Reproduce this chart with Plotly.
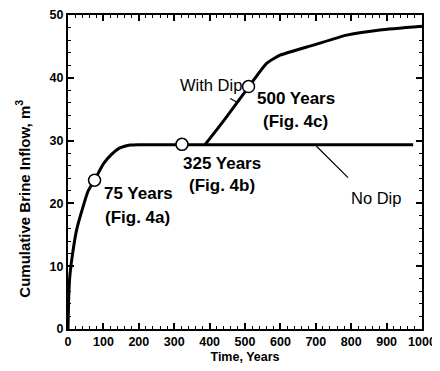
import plotly.graph_objects as go

# No Dip curve (time in years, cumulative inflow m^3)
no_dip_t = [0, 2, 4, 6, 13, 24, 39, 57, 75, 100, 123, 145, 160, 175, 200, 300, 387, 500, 700, 975]
no_dip_v = [0, 5, 7.5, 8.9, 12.0, 15.7, 18.8, 22.0, 23.7, 26.3, 27.8, 28.8, 29.1, 29.3, 29.35, 29.35, 29.35, 29.35, 29.35, 29.35]

# With Dip branch
dip_t = [387, 439, 511, 561, 599, 693, 787, 881, 1000]
dip_v = [29.35, 33.1, 38.6, 42.3, 43.6, 45.2, 46.8, 47.6, 48.2]

# Snapshot markers
marker_t = [75, 322, 510]
marker_v = [23.7, 29.4, 38.6]

# Labels
label_text = ["With Dip", "500 Years", "(Fig. 4c)", "325 Years", "(Fig. 4b)", "75 Years", "(Fig. 4a)", "No Dip"]
label_x = [404, 644, 643, 435, 435, 200, 197, 871]
label_y = [38.9, 36.7, 33.1, 26.3, 22.8, 21.5, 17.7, 20.9]
label_bold = [False, True, True, True, True, True, True, False]

# Leader lines (x0, y0, x1, y1)
leaders = [(458, 36.7, 478, 36.1), (702, 29.1, 791, 24.1)]

FONT = "Liberation Sans, Arial, Helvetica, sans-serif"

fig = go.Figure()
fig.add_trace(go.Scatter(x=no_dip_t, y=no_dip_v, mode="lines",
                         line=dict(color="black", width=3, shape="spline", smoothing=0.6),
                         showlegend=False, hoverinfo="skip"))
fig.add_trace(go.Scatter(x=dip_t, y=dip_v, mode="lines",
                         line=dict(color="black", width=3, shape="spline", smoothing=0.5),
                         showlegend=False, hoverinfo="skip"))
fig.add_trace(go.Scatter(x=marker_t, y=marker_v, mode="markers",
                         marker=dict(size=12, color="white", line=dict(color="black", width=1.5)),
                         showlegend=False, hoverinfo="skip"))

for t, x, y, b in zip(label_text, label_x, label_y, label_bold):
    fig.add_annotation(x=x, y=y, text=t, showarrow=False, xref="x", yref="y",
                       font=dict(family=FONT, size=17 if b else 16.5, color="black",
                                 weight="bold" if b else "normal"))

for x0, y0, x1, y1 in leaders:
    fig.add_shape(type="line", x0=x0, y0=y0, x1=x1, y1=y1, xref="x", yref="y",
                  line=dict(color="black", width=1.2))

# y-axis title (placed as annotation to match its lower-than-centre position)
fig.add_annotation(x=0, y=0.415, xref="paper", yref="paper", xshift=-45,
                   text="Cumulative Brine Inflow, m<sup>3</sup>", textangle=-90,
                   showarrow=False, xanchor="center", yanchor="middle",
                   font=dict(family=FONT, size=15, color="black", weight="bold"))

axis_common = dict(showgrid=False, zeroline=False, showline=True, linecolor="black",
                   linewidth=2, ticks="inside", tickcolor="black", automargin=False,
                   tickwidth=1.5, ticklen=6, ticklabeloverflow="allow",
                   tickfont=dict(family=FONT, size=12.5, color="black", weight="bold"))

fig.update_layout(
    xaxis=dict(range=[0, 1000], dtick=100, tick0=0, mirror=True,
               minor=dict(dtick=20, ticks="inside", ticklen=3, tickcolor="black", tickwidth=1),
               title=dict(text="Time, Years", standoff=4,
                          font=dict(family=FONT, size=12.5, color="black", weight="bold")),
               **axis_common),
    yaxis=dict(range=[0, 50], dtick=10, tick0=0, mirror=True,
               minor=dict(dtick=2, ticks="inside", ticklen=3, tickcolor="black", tickwidth=1),
               **axis_common),
    xaxis2=dict(range=[0, 1000], dtick=100, tick0=0, overlaying="x", side="top",
                showticklabels=False, showline=False, showgrid=False, zeroline=False,
                automargin=False,
                ticks="inside", ticklen=6, tickwidth=1.5, tickcolor="black",
                minor=dict(dtick=20, ticks="inside", ticklen=3, tickcolor="black", tickwidth=1)),
    yaxis2=dict(range=[0, 50], dtick=10, tick0=0, overlaying="y", side="right",
                showticklabels=False, showline=False, showgrid=False, zeroline=False,
                automargin=False,
                ticks="inside", ticklen=6, tickwidth=1.5, tickcolor="black",
                minor=dict(dtick=2, ticks="inside", ticklen=3, tickcolor="black", tickwidth=1)),
)
# invisible trace to activate mirrored tick axes
fig.add_trace(go.Scatter(x=[0], y=[0], xaxis="x2", yaxis="y2", mode="markers",
                         marker=dict(opacity=0), showlegend=False, hoverinfo="skip"))

# page body has an 8px default margin, so the figure is 8px smaller than the window
fig.update_layout(width=432, height=363, margin=dict(l=60, r=18, t=7, b=42),
                  paper_bgcolor="white", plot_bgcolor="white",
                  font=dict(family=FONT, color="black"))

fig.write_html("out.html")
